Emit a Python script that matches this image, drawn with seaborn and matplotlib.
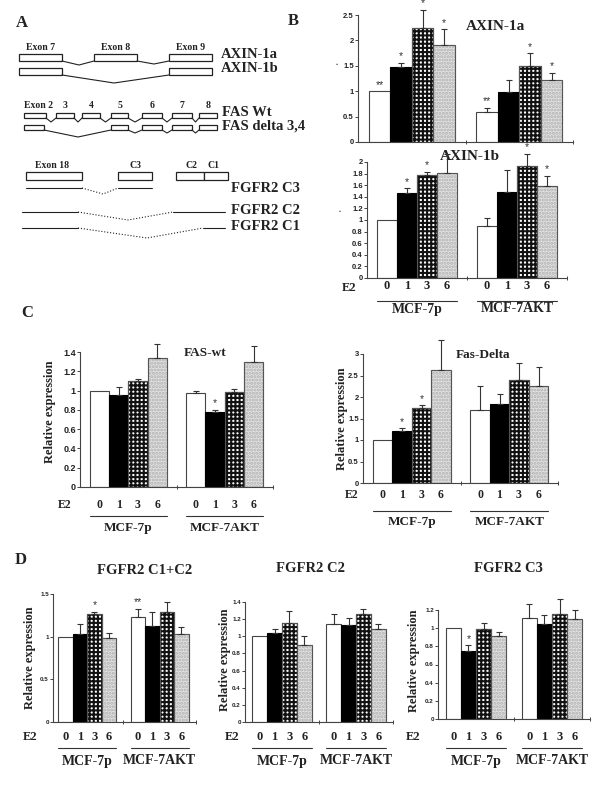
import numpy as np
import pandas as pd
import matplotlib
matplotlib.use('Agg')
import matplotlib.pyplot as plt
import matplotlib.transforms as mtransforms
from matplotlib.patches import Rectangle
import seaborn as sns

# categories
groups = ['MCF-7p', 'MCF-7AKT']
times = ['0', '1', '3', '6']

# panel B
axin1a_mean = [1.00, 1.48, 2.25, 1.90, 0.60, 0.98, 1.50, 1.23]
axin1a_err = [0.00, 0.08, 0.35, 0.32, 0.07, 0.24, 0.25, 0.13]
axin1a_sig = ['**', '*', '*', '*', '**', '', '*', '*']

axin1b_mean = [1.00, 1.46, 1.77, 1.81, 0.90, 1.49, 1.93, 1.59]
axin1b_err = [0.00, 0.09, 0.06, 0.33, 0.13, 0.38, 0.21, 0.17]
axin1b_sig = ['', '*', '*', '', '', '', '*', '*']

# panel C
faswt_mean = [1.00, 0.95, 1.10, 1.34, 0.98, 0.78, 0.99, 1.30]
faswt_err = [0.00, 0.09, 0.02, 0.14, 0.02, 0.02, 0.03, 0.16]
faswt_sig = ['', '', '', '', '', '*', '', '']

fasdelta_mean = [1.00, 1.22, 1.74, 2.62, 1.70, 1.83, 2.39, 2.26]
fasdelta_err = [0.00, 0.05, 0.07, 0.70, 0.56, 0.24, 0.39, 0.44]
fasdelta_sig = ['', '*', '*', '', '', '', '', '']

# panel D
c1c2_mean = [1.00, 1.03, 1.26, 0.98, 1.23, 1.12, 1.29, 1.03]
c1c2_err = [0.00, 0.12, 0.03, 0.06, 0.10, 0.17, 0.12, 0.08]
c1c2_sig = ['', '', '*', '', '**', '', '', '']

c2_mean = [1.00, 1.04, 1.15, 0.90, 1.14, 1.13, 1.26, 1.08]
c2_err = [0.00, 0.04, 0.15, 0.10, 0.12, 0.08, 0.06, 0.06]
c2_sig = ['', '', '', '', '', '', '', '']

c3_mean = [1.00, 0.75, 0.99, 0.91, 1.11, 1.05, 1.16, 1.10]
c3_err = [0.00, 0.06, 0.07, 0.05, 0.16, 0.10, 0.16, 0.10]
c3_sig = ['', '*', '', '', '', '', '', '']

sns.set_theme(style='white')
plt.rcParams['font.family'] = ['Liberation Serif', 'DejaVu Serif']
plt.rcParams['hatch.linewidth'] = 1.5
SANS = ['Liberation Sans', 'DejaVu Sans']
INK = '#222222'

W, H = 600, 786
fig = plt.figure(figsize=(6, 7.86), dpi=100, facecolor='white')

# overlay in pixel coordinates for the schematic and free text
ov = fig.add_axes([0, 0, 1, 1])
ov.set_xlim(0, W)
ov.set_ylim(H, 0)
ov.axis('off')


def px_text(x, y, s, size, **kw):
    kw.setdefault('weight', 'bold')
    kw.setdefault('ha', 'center')
    kw.setdefault('va', 'center')
    ov.text(x, y, s, fontsize=size, color=INK, **kw)


def add_px_axes(left, top, right, bottom):
    ax = fig.add_axes([left / W, 1 - bottom / H, (right - left) / W, (bottom - top) / H])
    ax.set_facecolor('none')
    return ax


# ---------------- panel A: splice schematic ----------------
def box(x0, x1, y0, y1):
    ov.add_patch(Rectangle((x0, y0), x1 - x0, y1 - y0, facecolor='white',
                           edgecolor=INK, lw=0.9))


def link(pts, ls='-'):
    xs, ys = zip(*pts)
    ov.plot(xs, ys, color=INK, lw=0.8, ls=ls)


px_text(22, 23, 'A', 12)
px_text(293, 21, 'B', 12)
px_text(27, 313, 'C', 12)
px_text(21, 560, 'D', 12)

# AXIN
for x0, x1, lab in [(19, 62, 'Exon 7'), (94, 137, 'Exon 8'), (169, 212, 'Exon 9')]:
    box(x0, x1, 54, 61)
    px_text((x0 + x1) / 2, 47, lab, 7)
link([(62, 61), (79, 65), (94, 61)])
link([(137, 61), (154, 64), (169, 61)])
box(19, 62, 68, 75)
box(169, 212, 68, 75)
link([(62, 75), (114, 83), (169, 75)])
px_text(221, 54, 'AXIN-1a', 10.5, ha='left')
px_text(221, 69, 'AXIN-1b', 10.5, ha='left')

# FAS
fas_boxes = [(24, 46), (56, 74), (82, 100), (111, 128), (142, 162), (172, 192), (199, 217)]
fas_labs = ['Exon 2', '3', '4', '5', '6', '7', '8']
for (x0, x1), lab in zip(fas_boxes, fas_labs):
    box(x0, x1, 113, 118)
    px_text((x0 + x1) / 2 if lab != 'Exon 2' else 38, 106, lab, 7)
for (a0, a1), (b0, b1) in zip(fas_boxes[:-1], fas_boxes[1:]):
    link([(a1, 118), ((a1 + b0) / 2, 122), (b0, 118)])
fas_d = [(24, 44)] + fas_boxes[3:]
for x0, x1 in fas_d:
    box(x0, x1, 125, 130)
link([(44, 130), (78, 137), (111, 130)])
for (a0, a1), (b0, b1) in zip(fas_d[1:-1], fas_d[2:]):
    link([(a1, 130), ((a1 + b0) / 2, 133), (b0, 130)])
px_text(222, 113, 'FAS Wt', 10.5, ha='left')
px_text(222, 126, 'FAS delta 3,4', 10.5, ha='left')

# FGFR2
for x0, x1, lab, lx in [(26, 82, 'Exon 18', 52), (118, 152, 'C3', 135),
                        (176, 204, 'C2', 191), (204, 228, 'C1', 214)]:
    box(x0, x1, 172, 180)
    px_text(lx, 166, lab, 7)
link([(26, 188), (82, 188)])
link([(82, 188), (103, 194), (118, 188)], ls=':')
link([(118, 188), (152, 188)])
link([(22, 212), (78, 212)])
link([(78, 212), (128, 220), (173, 212)], ls=':')
link([(173, 212), (225, 212)])
link([(22, 228), (78, 228)])
link([(78, 228), (147, 238), (203, 228)], ls=':')
link([(203, 228), (225, 228)])
px_text(231, 189, 'FGFR2 C3', 10.5, ha='left')
px_text(231, 210, 'FGFR2 C2', 10.5, ha='left')
px_text(231, 227, 'FGFR2 C1', 10.5, ha='left')

# ---------------- bar panels ----------------
bar_face = {'0': 'white', '1': 'black', '3': 'white', '6': '#e2e2e2'}
bar_edge = {'0': '#444444', '1': 'black', '3': '#111111', '6': '#b0b0b0'}
bar_hatch = {'0': None, '1': None, '3': '++++', '6': '.....'}


def bar_panel(ax, means, errs, sigs, yticks, ticksize, xlim=(-0.5, 1.5)):
    df = pd.DataFrame({'group': np.repeat(groups, len(times)),
                       'time': times * len(groups),
                       'value': means, 'err': errs, 'sig': sigs})
    sns.barplot(data=df, x='group', y='value', hue='time', order=groups,
                hue_order=times, palette=bar_face, errorbar=None, width=0.8,
                legend=False, ax=ax, linewidth=0.8, edgecolor='black')
    centers = {}
    for cont, t in zip(ax.containers, times):
        for bar, g in zip(cont, groups):
            bar.set_edgecolor(bar_edge[t])
            if bar_hatch[t]:
                bar.set_hatch(bar_hatch[t])
                # dark outline on top of the light hatch
                ax.add_patch(Rectangle((bar.get_x(), 0), bar.get_width(),
                                       bar.get_height(), fill=False,
                                       edgecolor='#555555', lw=0.8))
            row = df[(df.group == g) & (df.time == t)].iloc[0]
            x = bar.get_x() + bar.get_width() / 2
            top = bar.get_height()
            centers[(g, t)] = (x, bar.get_x(), bar.get_x() + bar.get_width())
            if row.err > 0:
                eb = ax.errorbar([x], [top], yerr=[[0], [row.err]], fmt='none',
                                 ecolor='#333333', elinewidth=0.8, capsize=2,
                                 capthick=0.8)
                for art in eb.get_children():
                    art.set_clip_on(False)
            if row.sig:
                ax.annotate(row.sig, xy=(x, top + row.err), xytext=(0, 1),
                            textcoords='offset points', ha='center', va='bottom',
                            fontsize=7.5, family=SANS, color='#333333',
                            annotation_clip=False)
    ax.set_xlim(*xlim)
    ax.set_ylim(yticks[0], yticks[-1])
    ax.set_yticks(yticks)
    ax.set_yticklabels([f'{t:g}' for t in yticks], fontsize=ticksize,
                       family=SANS, weight='bold', color=INK)
    ax.set_xticks([0.5, 1.5])
    ax.set_xticklabels([])
    ax.set_xlabel('')
    ax.set_ylabel('')
    ax.tick_params(axis='y', length=2, width=0.7, pad=1, colors='#444444',
                   labelcolor=INK, left=True)
    ax.tick_params(axis='x', length=3, width=0.7, direction='inout',
                   colors='#444444', bottom=True)
    sns.despine(ax=ax)
    for side in ['left', 'bottom']:
        ax.spines[side].set_color('#444444')
        ax.spines[side].set_linewidth(0.8)
    return centers


def group_labels(ax, centers, num_dy, line_dy, text_dy, e2_dx, numsize, textsize,
                 e2_dy=None):
    trans = ax.get_xaxis_transform()
    x_axis0 = ax.get_xlim()[0]
    e2_dy = num_dy if e2_dy is None else e2_dy
    ax.annotate('E2', xy=(x_axis0, 0), xycoords=trans,
                xytext=(-e2_dx * 0.72, -e2_dy * 0.72), textcoords='offset points',
                ha='center', va='center', fontsize=numsize, weight='bold',
                color=INK, annotation_clip=False)
    line_tr = mtransforms.offset_copy(trans, fig=fig, y=-line_dy, units='dots')
    for g in groups:
        for t in times:
            x = centers[(g, t)][0]
            ax.annotate(t, xy=(x, 0), xycoords=trans, xytext=(0, -num_dy * 0.72),
                        textcoords='offset points', ha='center', va='center',
                        fontsize=numsize, weight='bold', color=INK,
                        annotation_clip=False)
        x0 = centers[(g, times[0])][1]
        x1 = centers[(g, times[-1])][2]
        ax.plot([x0, x1], [0, 0], transform=line_tr, color='#333333', lw=0.8,
                clip_on=False)
        ax.annotate(g, xy=((x0 + x1) / 2, 0), xycoords=trans,
                    xytext=(0, -text_dy * 0.72), textcoords='offset points',
                    ha='center', va='center', fontsize=textsize, weight='bold',
                    color=INK, annotation_clip=False)


# B
axB1 = add_px_axes(358, 15, 573, 142)
bar_panel(axB1, axin1a_mean, axin1a_err, axin1a_sig,
          [0, 0.5, 1, 1.5, 2, 2.5], 5.5)
px_text(495, 27, 'AXIN-1a', 11)
px_text(337, 63, '.', 6)

axB2 = add_px_axes(367, 162, 567, 278)
cB2 = bar_panel(axB2, axin1b_mean, axin1b_err, axin1b_sig,
                [0, 0.2, 0.4, 0.6, 0.8, 1, 1.2, 1.4, 1.6, 1.8, 2], 5.5)
group_labels(axB2, cB2, 8, 23, 31, 18, 9, 10, e2_dy=10)
px_text(470, 157, 'AXIN-1b', 11)
px_text(340, 210, '.', 6)

# C
axC1 = add_px_axes(80, 352, 273, 487)
cC1 = bar_panel(axC1, faswt_mean, faswt_err, faswt_sig,
                [0, 0.2, 0.4, 0.6, 0.8, 1, 1.2, 1.4], 6.5)
group_labels(axC1, cC1, 18, 29, 41, 15, 8.5, 9.5)
px_text(205, 353, 'FAS-wt', 9.5)
px_text(50, 412, 'Relative expression', 9, rotation=90)

axC2 = add_px_axes(363, 354, 558, 483)
cC2 = bar_panel(axC2, fasdelta_mean, fasdelta_err, fasdelta_sig,
                [0, 0.5, 1, 1.5, 2, 2.5, 3], 5.5)
group_labels(axC2, cC2, 12, 28, 39, 11, 8.5, 9.5)
px_text(483, 355, 'Fas-Delta', 9.5)
px_text(342, 419, 'Relative expression', 9, rotation=90)

# D
axD1 = add_px_axes(53, 594, 196, 722)
cD1 = bar_panel(axD1, c1c2_mean, c1c2_err, c1c2_sig, [0, 0.5, 1, 1.5], 4.5,
                xlim=(-0.47, 1.46))
group_labels(axD1, cD1, 15, 26, 39, 23, 9, 10)
px_text(145, 570, 'FGFR2 C1+C2', 10.5)
px_text(30, 658, 'Relative expression', 9, rotation=90)

axD2 = add_px_axes(245, 602, 393, 722)
cD2 = bar_panel(axD2, c2_mean, c2_err, c2_sig,
                [0, 0.2, 0.4, 0.6, 0.8, 1, 1.2, 1.4], 4.5, xlim=(-0.5, 1.42))
group_labels(axD2, cD2, 15, 26, 39, 13, 9, 10)
px_text(310, 569, 'FGFR2 C2', 10.5)
px_text(225, 660, 'Relative expression', 9, rotation=90)

axD3 = add_px_axes(438, 610, 590, 719)
cD3 = bar_panel(axD3, c3_mean, c3_err, c3_sig,
                [0, 0.2, 0.4, 0.6, 0.8, 1, 1.2], 4.5, xlim=(-0.5, 1.45))
group_labels(axD3, cD3, 18, 29, 42, 25, 9, 10)
px_text(508, 569, 'FGFR2 C3', 10.5)
px_text(414, 661, 'Relative expression', 9, rotation=90)

fig.savefig('out.png', dpi=100, facecolor='white')
